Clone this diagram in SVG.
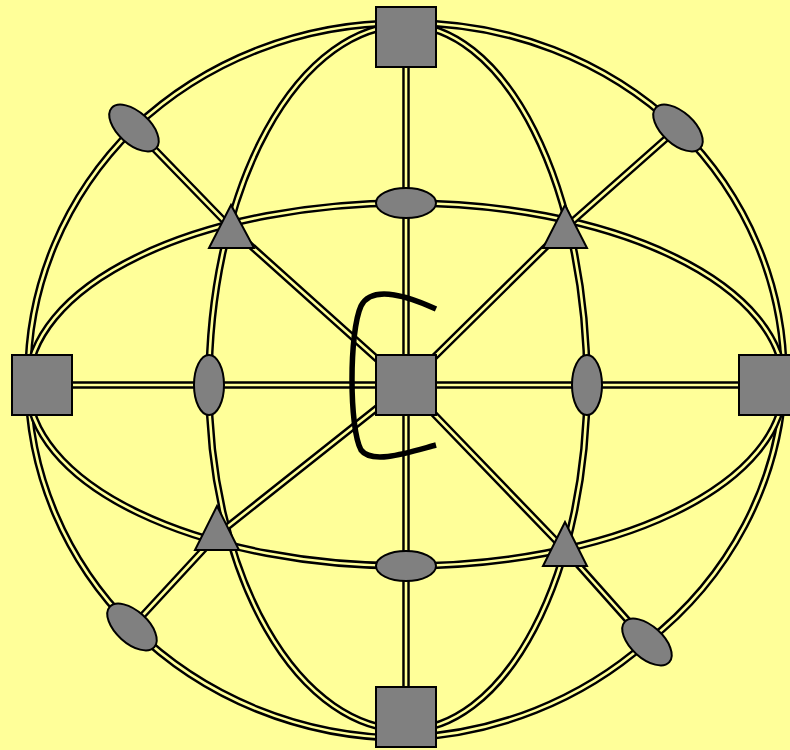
<svg xmlns="http://www.w3.org/2000/svg" width="790" height="750" viewBox="0 0 790 750">
<style>
.o{fill:none;stroke:#000;stroke-width:7.5;stroke-linejoin:round}
.i{fill:none;stroke:#ffff99;stroke-width:2.6;stroke-linejoin:round}
.n{fill:#808080;stroke:#000;stroke-width:2}
</style>
<defs>
<path id="outer" d="M 406 23 A 378 358 0 0 0 134 128 A 378 358 0 0 0 28 381 A 378 358 0 0 0 132 627 A 378 358 0 0 0 406 738 A 378 358 0 0 0 647 642 A 378 358 0 0 0 784 381 A 378 358 0 0 0 678 128 A 378 358 0 0 0 406 23 Z"/>
<path id="equator" d="M 28 385 A 378 182 0 0 1 784 385 A 378 181 0 0 1 28 385 Z"/>
<path id="meridian" d="M 406 25 A 197 360 0 0 0 209 385 A 197 345 0 0 0 406 730 A 181 345 0 0 0 587 385 A 181 360 0 0 0 406 25 Z"/>
<path id="radials" d="M406 67V355 M406 415V687 M72 385H376 M436 385H739 M406 385L231 228L134 128 M406 385L565 228L678 128 M406 385L217 535L132 627 M406 385L565 550L647 642"/>
</defs>
<rect width="790" height="750" fill="#ffff99"/>
<g id="connectors">
<use href="#outer" class="o"/><use href="#outer" class="i"/>
<use href="#equator" class="o"/><use href="#equator" class="i"/>
<use href="#meridian" class="o"/><use href="#meridian" class="i"/>
<use href="#radials" class="o"/><use href="#radials" class="i"/>
</g>
<g id="sq-top"><rect class="n" x="376" y="7" width="60" height="60"/></g>
<g id="sq-center"><rect class="n" x="376" y="355" width="60" height="60"/></g>
<g id="sq-left"><rect class="n" x="12" y="355" width="60" height="60"/></g>
<g id="sq-right"><rect class="n" x="739" y="355" width="60" height="60"/></g>
<g id="sq-bottom"><rect class="n" x="376" y="687" width="60" height="60"/></g>
<g id="el-top"><ellipse class="n" cx="406" cy="203" rx="30" ry="15"/></g>
<g id="el-bottom"><ellipse class="n" cx="406" cy="566" rx="30" ry="15"/></g>
<g id="el-left"><ellipse class="n" cx="209" cy="385" rx="15" ry="30"/></g>
<g id="el-right"><ellipse class="n" cx="587" cy="385" rx="15" ry="30"/></g>
<g id="el-tl"><ellipse class="n" cx="134" cy="128" rx="30" ry="16" transform="rotate(42 134 128)"/></g>
<g id="el-tr"><ellipse class="n" cx="678" cy="128" rx="30" ry="16" transform="rotate(42 678 128)"/></g>
<g id="el-bl"><ellipse class="n" cx="132" cy="627" rx="30" ry="16" transform="rotate(42 132 627)"/></g>
<g id="el-br"><ellipse class="n" cx="647" cy="642" rx="30" ry="16" transform="rotate(42 647 642)"/></g>
<g id="tri-tl"><polygon class="n" points="231,205 209,248 254,248"/></g>
<g id="tri-tr"><polygon class="n" points="565,205 543,248 587,248"/></g>
<g id="tri-bl"><polygon class="n" points="217,506 195,550 239,550"/></g>
<g id="tri-br"><polygon class="n" points="565,522 543,566 587,566"/></g>
<g id="brace"><path d="M 436 309 C 410 297 372 284 361 306 C 349 332 349 428 361 450 C 372 465 410 452 436 445" fill="none" stroke="#000" stroke-width="5.5"/></g>
</svg>
